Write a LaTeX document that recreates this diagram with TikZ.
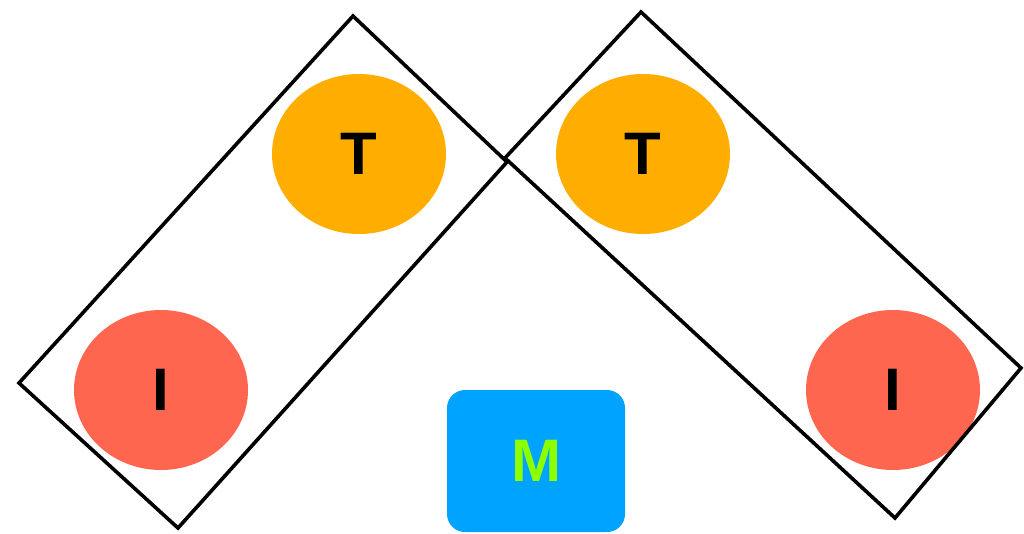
\documentclass[tikz,border=0pt]{standalone}
\usepackage{fontspec}
\setmainfont{Liberation Sans}
\usetikzlibrary{shapes.geometric}
\definecolor{torange}{HTML}{FFAE00}
\definecolor{ired}{HTML}{FF6650}
\definecolor{mblue}{HTML}{00A3FF}
\definecolor{mgreen}{HTML}{8CFF00}
\tikzset{
  blob/.style={ellipse, minimum width=174pt, minimum height=160pt, inner sep=0pt,
    font=\bfseries\fontsize{60}{60}\selectfont, text=black},
  tball/.style={blob, fill=torange},
  iball/.style={blob, fill=ired},
  frame/.style={draw=black, line width=3.6pt, line join=miter},
  mbox/.style={fill=mblue, rounded corners=18pt, minimum width=178pt, minimum height=142pt,
    inner sep=0pt, text=mgreen, font=\bfseries\fontsize{60}{60}\selectfont}
}
\begin{document}
\begin{tikzpicture}[x=1pt,y=-1pt]
\useasboundingbox (0,0) rectangle (1024,533);
% left rectangle
\coordinate (la) at (353,16);
\coordinate (lb) at (507,162);
\coordinate (lc) at (178,528);
\coordinate (ld) at (19,383);
% right rectangle
\coordinate (ra) at (641,12);
\coordinate (rb) at (1021,368);
\coordinate (rc) at (895,518);
\coordinate (rd) at (505,158);
\node[tball] (t1) at (359,154) {T};
\node[iball] (i1) at (161,390) {I};
\node[tball] (t2) at (643,154) {T};
\node[iball] (i2) at (893,390) {I};
\draw[frame] (la) -- (lb) -- (lc) -- (ld) -- cycle;
\draw[frame] (ra) -- (rb) -- (rc) -- (rd) -- cycle;
\node[mbox] (m) at (536,461) {M};
\end{tikzpicture}
\end{document}
